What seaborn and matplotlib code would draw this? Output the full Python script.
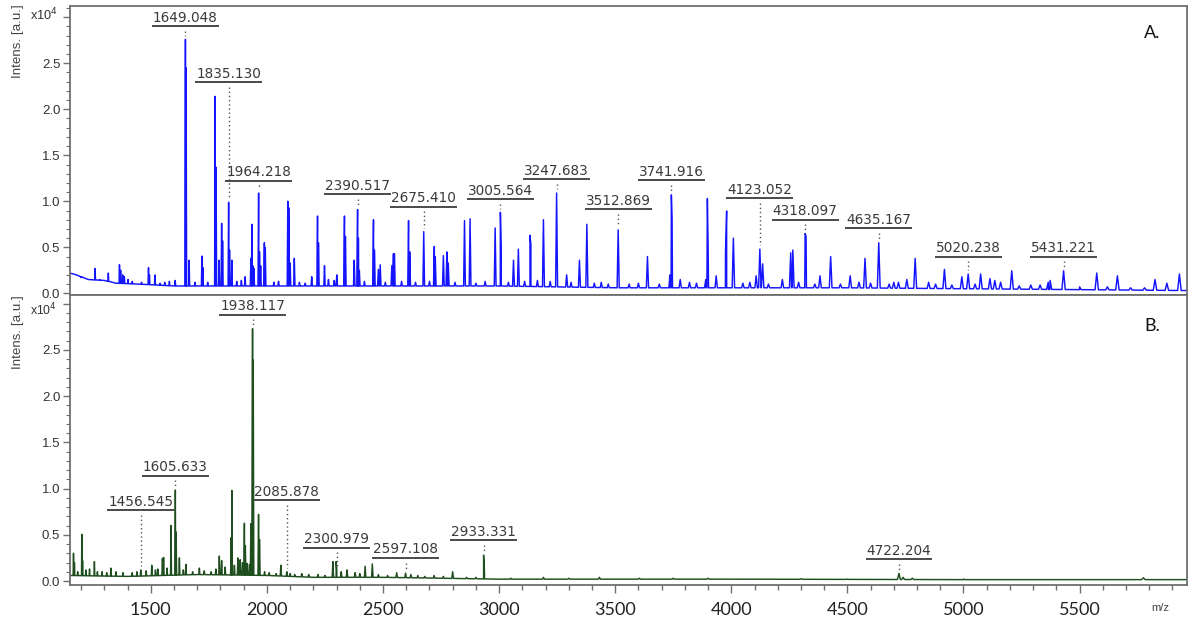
import numpy as np
import pandas as pd
import matplotlib
matplotlib.use("Agg")
import matplotlib.pyplot as plt
import seaborn as sns
from matplotlib.ticker import MultipleLocator, FixedLocator, FixedFormatter

# ---------------- spectrum A: main peaks (m/z, intensity in 1e4 a.u.) ----------------
a_peak_mz = [1260, 1317, 1365, 1370, 1379, 1386, 1402, 1490, 1494, 1518, 1560, 1605,
             1649.048, 1652, 1665, 1720, 1724, 1777, 1781, 1794, 1805, 1809,
             1835.130, 1839, 1849, 1906, 1931, 1935, 1939, 1944, 1964.218, 1968, 1973,
             1989, 1993, 2090, 2094, 2100, 2118, 2193, 2218, 2222, 2248, 2265, 2301,
             2334, 2338, 2376, 2390.517, 2394, 2398, 2459, 2463, 2480, 2488, 2538, 2545,
             2549, 2610, 2615, 2675.410, 2721, 2725, 2760, 2775, 2781, 2851, 2875,
             2983, 3005.564, 3009, 3062, 3083, 3133, 3137, 3191, 3247.683, 3291, 3346,
             3378, 3440, 3512.869, 3639, 3736, 3741.916, 3745, 3780, 3890, 3897, 3900,
             3935, 3975, 3980, 4009, 4107, 4123.052, 4135, 4220, 4256, 4265, 4318.097,
             4322, 4382, 4428, 4512, 4576, 4635.167, 4700, 4756, 4792, 4850, 4918, 4993,
             5020.238, 5074, 5114, 5135, 5160, 5208, 5290, 5365, 5373, 5431.221, 5574,
             5663, 5825, 5876, 5930]
a_peak_int = [0.27, 0.22, 0.31, 0.25, 0.20, 0.18, 0.15, 0.28, 0.20, 0.20, 0.12, 0.14,
              2.76, 2.45, 0.36, 0.405, 0.28, 2.14, 1.37, 0.36, 0.76, 0.57,
              0.99, 0.47, 0.36, 0.18, 0.38, 0.75, 0.30, 0.27, 1.09, 0.45, 0.30,
              0.55, 0.50, 1.00, 0.93, 0.33, 0.38, 0.18, 0.84, 0.55, 0.30, 0.15, 0.20,
              0.84, 0.62, 0.36, 0.91, 0.60, 0.25, 0.80, 0.47, 0.26, 0.31, 0.30, 0.43,
              0.43, 0.79, 0.45, 0.67, 0.51, 0.40, 0.41, 0.45, 0.33, 0.79, 0.81,
              0.71, 0.88, 0.50, 0.36, 0.48, 0.63, 0.53, 0.80, 1.09, 0.20, 0.36,
              0.75, 0.12, 0.69, 0.40, 0.20, 1.07, 0.81, 0.15, 0.15, 1.03, 0.56,
              0.19, 0.45, 0.895, 0.60, 0.19, 0.48, 0.32, 0.15, 0.44, 0.47, 0.65,
              0.62, 0.19, 0.40, 0.19, 0.38, 0.55, 0.12, 0.15, 0.38, 0.12, 0.26, 0.18,
              0.21, 0.21, 0.16, 0.14, 0.12, 0.245, 0.09, 0.12, 0.14, 0.245, 0.22,
              0.19, 0.15, 0.11, 0.21]
# small signals riding on the baseline
a_small_mz = [1200, 1280, 1420, 1460, 1540, 1580, 1690, 1745, 1870, 1890, 2030, 2050,
              2140, 2165, 2290, 2420, 2510, 2580, 2640, 2700, 2810, 2900, 2940, 3040,
              3110, 3165, 3220, 3310, 3410, 3470, 3560, 3600, 3690, 3820, 3850, 4050,
              4080, 4160, 4290, 4360, 4470, 4550, 4600, 4680, 4720, 4880, 4950, 5050,
              5240, 5330, 5500, 5620, 5720, 5780]
a_small_int = [0.17, 0.15, 0.13, 0.12, 0.11, 0.13, 0.12, 0.12, 0.13, 0.14, 0.12, 0.13,
               0.12, 0.11, 0.14, 0.13, 0.12, 0.13, 0.12, 0.13, 0.12, 0.11, 0.13, 0.12,
               0.13, 0.14, 0.13, 0.12, 0.11, 0.10, 0.10, 0.11, 0.10, 0.12, 0.11, 0.11,
               0.12, 0.10, 0.12, 0.10, 0.10, 0.12, 0.11, 0.10, 0.12, 0.10, 0.09, 0.10,
               0.08, 0.09, 0.07, 0.07, 0.06, 0.06]
a_base_mz = [1152, 1180, 1230, 1300, 1350, 1450, 1600, 2000, 2500, 3000, 3500, 4000,
             4500, 5000, 5500, 5962]
a_base_int = [0.22, 0.20, 0.15, 0.14, 0.11, 0.10, 0.08, 0.08, 0.08, 0.08, 0.06, 0.06,
              0.06, 0.05, 0.04, 0.03]
a_label_mz = [1649.048, 1835.130, 1964.218, 2390.517, 2675.410, 3005.564, 3247.683,
              3512.869, 3741.916, 4123.052, 4318.097, 4635.167, 5020.238, 5431.221]

# ---------------- spectrum B ----------------
b_peak_mz = [1167, 1171, 1203, 1206, 1236, 1257, 1290, 1328, 1380, 1420, 1456.545,
             1504, 1530, 1550, 1555, 1587, 1605.633, 1609, 1623, 1651, 1709, 1760,
             1795, 1805, 1846, 1849, 1875, 1885, 1903, 1907, 1915, 1931, 1938.117, 1941,
             1964, 1968, 1990, 2060, 2085.878, 2120, 2180, 2284, 2298, 2300.979, 2345,
             2380, 2423, 2454, 2520, 2559, 2597.108, 2620, 2680, 2720, 2800, 2900,
             2933.331, 2937, 3191, 3432, 3604, 4081, 4722.204, 4740, 4780, 5000, 5775]
b_peak_int = [0.30, 0.20, 0.505, 0.22, 0.13, 0.21, 0.10, 0.14, 0.09, 0.09, 0.12,
              0.17, 0.13, 0.245, 0.255, 0.60, 0.985, 0.53, 0.25, 0.18, 0.14, 0.10,
              0.27, 0.22, 0.47, 0.98, 0.25, 0.23, 0.625, 0.38, 0.19, 0.62, 2.73, 2.39,
              0.72, 0.45, 0.10, 0.17, 0.10, 0.07, 0.07, 0.21, 0.21, 0.12, 0.12,
              0.09, 0.16, 0.185, 0.06, 0.09, 0.085, 0.07, 0.05, 0.06, 0.10, 0.04,
              0.28, 0.10, 0.04, 0.04, 0.03, 0.02, 0.083, 0.04, 0.03, 0.02, 0.035]
b_small_mz = [1185, 1220, 1270, 1310, 1350, 1440, 1480, 1520, 1570, 1640, 1680, 1730,
              1780, 1820, 1860, 1895, 1925, 2010, 2040, 2100, 2150, 2220, 2250, 2320,
              2400, 2480, 2650, 2760, 2860, 3050, 3300, 3750, 3900, 4300, 4500]
b_small_int = [0.10, 0.12, 0.10, 0.09, 0.10, 0.10, 0.11, 0.12, 0.14, 0.12, 0.10, 0.11,
               0.13, 0.15, 0.17, 0.20, 0.18, 0.09, 0.08, 0.08, 0.08, 0.07, 0.06, 0.10,
               0.08, 0.07, 0.06, 0.05, 0.04, 0.03, 0.03, 0.03, 0.03, 0.025, 0.02]
b_base_mz = [1152, 1400, 1700, 2000, 2200, 2500, 3000, 4000, 5000, 5962]
b_base_int = [0.06, 0.05, 0.07, 0.06, 0.04, 0.04, 0.02, 0.02, 0.015, 0.015]
b_label_mz = [1456.545, 1605.633, 1938.117, 2085.878, 2300.979, 2597.108, 2933.331,
              4722.204]

# underline heights of the peak annotations (layout)
a_label_level = [2.905, 2.297, 1.224, 1.08, 0.94, 1.025, 1.24, 0.915, 1.23, 1.035,
                 0.80, 0.706, 0.40, 0.40]
b_label_level = [0.765, 1.14, 2.88, 0.877, 0.36, 0.25, 0.44, 0.235]

XMIN, XMAX = 1152, 5962


def profile(peak_mz, peak_int, base_mz, base_int):
    """Narrow peak profile: each peak rises from the local baseline."""
    pm = np.asarray(peak_mz, float)
    pi = np.asarray(peak_int, float)
    foot = np.interp(pm, base_mz, base_int)
    hw = 0.0013 * pm
    xs = np.concatenate([base_mz, pm - hw, pm, pm + hw])
    ys = np.concatenate([base_int, foot, pi, foot])
    return pd.DataFrame({"mz": xs, "intensity": ys}).sort_values("mz", kind="stable")


sns.set_theme(style="white")
plt.rcParams["font.family"] = ["Liberation Sans", "DejaVu Sans"]

fig = plt.figure(figsize=(11.97, 6.21), dpi=100)
ax_a = fig.add_axes([0.0585, 0.5250, 0.9330, 0.4654])
ax_b = fig.add_axes([0.0585, 0.0580, 0.9330, 0.4670])

spine_col = "#6e6e6e"
label_col = "#3a3a3a"

panels = [
    (ax_a, a_peak_mz + a_small_mz, a_peak_int + a_small_int, a_base_mz, a_base_int,
     a_label_mz, a_label_level, "#1414ff", (-0.018, 3.123)),
    (ax_b, b_peak_mz + b_small_mz, b_peak_int + b_small_int, b_base_mz, b_base_int,
     b_label_mz, b_label_level, "#1e4d1e", (-0.043, 3.095)),
]

for ax, pmz, pint, bmz, bint, lmz, llev, col, ylim in panels:
    df = profile(pmz, pint, bmz, bint)
    sns.lineplot(data=df, x="mz", y="intensity", ax=ax, color=col, lw=1.05,
                 estimator=None, sort=False)
    ax.set_xlim(XMIN, XMAX)
    ax.set_ylim(*ylim)
    ax.set_xlabel("")
    ax.set_ylabel("")
    for s in ax.spines.values():
        s.set_color(spine_col)
        s.set_linewidth(1.3)
    ax.yaxis.set_major_locator(FixedLocator([0, 0.5, 1.0, 1.5, 2.0, 2.5, 3.0]))
    ax.yaxis.set_major_formatter(FixedFormatter(["0.0", "0.5", "1.0", "1.5", "2.0", "2.5", ""]))
    ax.yaxis.set_minor_locator(MultipleLocator(0.1))
    ax.tick_params(axis="y", which="major", direction="out", length=5, width=1,
                   color=spine_col, labelsize=9.5, labelcolor="#333333", pad=2, left=True)
    ax.tick_params(axis="y", which="minor", direction="out", length=3, width=0.8,
                   color=spine_col, left=True)

    # peak annotations: value, underline and dotted leader to the peak
    for mz, lev in zip(lmz, llev):
        h = pint[int(np.argmin(np.abs(np.asarray(pmz) - mz)))]
        ax.annotate(f"{mz:.3f}", xy=(mz, lev), xytext=(0, 3.2), textcoords="offset points",
                    ha="center", va="baseline", fontsize=9.8, color=label_col,
                    family=["DejaVu Sans"], zorder=5)
        ax.plot([mz, mz], [lev - 0.05, h + 0.04], ls=(0, (1, 2)), color="#555555",
                lw=1.0, zorder=4)

ax_a.set_xticks([])
ax_a.tick_params(axis="x", which="both", bottom=False, labelbottom=False)

ax_b.xaxis.set_major_locator(MultipleLocator(500))
ax_b.xaxis.set_minor_locator(MultipleLocator(100))
ax_b.tick_params(axis="x", which="major", direction="out", length=6, width=1,
                 color=spine_col, labelsize=13, labelcolor="#222222", pad=6, bottom=True)
ax_b.tick_params(axis="x", which="minor", direction="out", length=3.5, width=1,
                 color=spine_col, bottom=True)
for lab in ax_b.get_xticklabels():
    lab.set_family(["Lato", "DejaVu Sans"])

# underlines sized to each annotation text
fig.canvas.draw()
renderer = fig.canvas.get_renderer()
for ax in (ax_a, ax_b):
    inv = ax.transData.inverted()
    for t in ax.texts:
        bb = t.get_window_extent(renderer)
        x0, _ = inv.transform((bb.x0 - 1, bb.y0))
        x1, _ = inv.transform((bb.x1 + 1, bb.y0))
        lev = t.xy[1]
        ax.plot([x0, x1], [lev, lev], color="#4a4a4a", lw=1.4, solid_capstyle="butt",
                zorder=5)

# axis titles, multipliers and panel tags
for ytop in (1 - 4 / 621, 1 - 295 / 621):
    fig.text(18 / 1197, ytop, "Intens. [a.u.]", rotation=90, ha="center", va="top",
             fontsize=9.6, color="#444444")
fig.text(30 / 1197, 1 - 15 / 621, r"x10$^{4}$", ha="left", va="center", fontsize=9.2,
         color="#333333")
fig.text(30 / 1197, 1 - 302 / 621, r"x10$^{4}$", ha="left", va="top", fontsize=8.8,
         color="#333333")
fig.text(1160 / 1197, 1 - 608 / 621, "m/z", ha="center", va="center", fontsize=8,
         color="#444444")
fig.text(1152 / 1197, 1 - 33 / 621, "A.", ha="center", va="center", fontsize=13,
         family=["Lato", "DejaVu Sans"], color="#111111")
fig.text(1152 / 1197, 1 - 326 / 621, "B.", ha="center", va="center", fontsize=13,
         family=["Lato", "DejaVu Sans"], color="#111111")

fig.savefig("out.png", dpi=100, facecolor="white")
